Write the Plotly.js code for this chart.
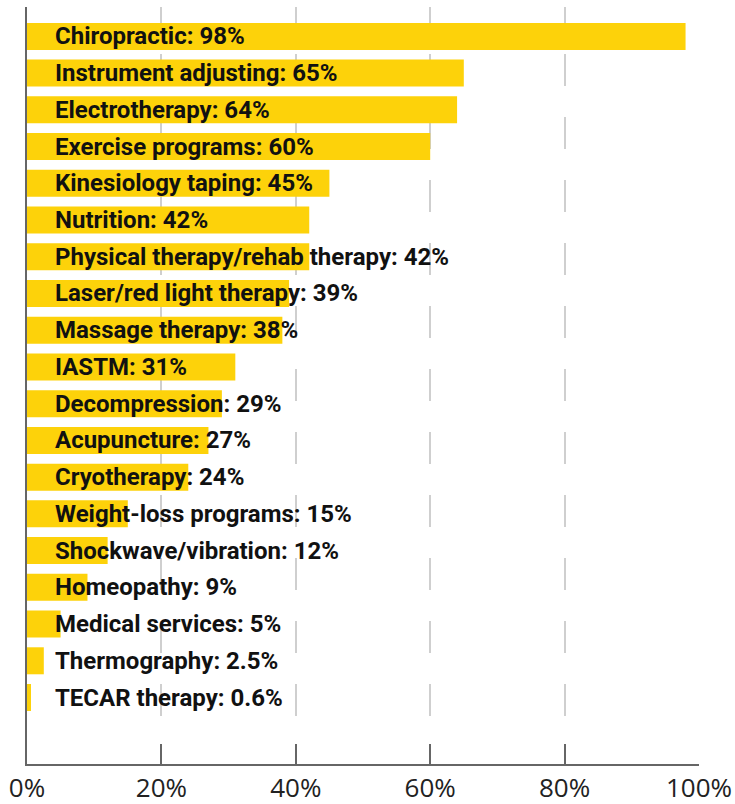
<!DOCTYPE html>
<html>
<head>
<meta charset="utf-8">
<script src="https://cdn.plot.ly/plotly-3.0.1.min.js"></script>
<style>
html,body{margin:0;padding:0;background:#fff;}
#chart{width:735px;height:804px;}
</style>
</head>
<body>
<div id="chart"></div>
<script>
const categories = [
  "Chiropractic", "Instrument adjusting", "Electrotherapy", "Exercise programs",
  "Kinesiology taping", "Nutrition", "Physical therapy/rehab therapy",
  "Laser/red light therapy", "Massage therapy", "IASTM", "Decompression",
  "Acupuncture", "Cryotherapy", "Weight-loss programs", "Shockwave/vibration",
  "Homeopathy", "Medical services", "Thermography", "TECAR therapy"
];
const values = [98, 65, 64, 60, 45, 42, 42, 39, 38, 31, 29, 27, 24, 15, 12, 9, 5, 2.5, 0.6];
const tickValues = [0, 20, 40, 60, 80, 100];
const tickLabels = ["0%", "20%", "40%", "60%", "80%", "100%"];

const labelFont = {family: "Roboto, 'Noto Sans', sans-serif", size: 24, color: "#111111", weight: 700};

const trace = {
  type: "bar",
  orientation: "h",
  x: values,
  y: categories,
  marker: {color: "#FDD20A", line: {width: 0}},
  width: 0.735,
  hoverinfo: "none"
};

const annotations = categories.map((c, i) => ({
  x: 0, y: c, xref: "x", yref: "y",
  text: c + ": " + values[i] + "%",
  showarrow: false, xanchor: "left", yanchor: "middle",
  xshift: 26,
  font: labelFont
}));

const layout = {
  width: 735, height: 804,
  margin: {l: 27, r: 36, t: 7, b: 40},
  paper_bgcolor: "#ffffff", plot_bgcolor: "#ffffff",
  showlegend: false,
  xaxis: {
    range: [0, 100],
    tickvals: tickValues, ticktext: tickLabels,
    showgrid: true, gridcolor: "#cfcfcf", gridwidth: 2,
    griddash: "16px,31px,16px,0px",
    ticks: "inside", ticklen: 20, tickwidth: 2, tickcolor: "#666666",
    showline: true, linecolor: "#666666", linewidth: 2,
    zeroline: false,
    tickfont: {family: "'Open Sans', 'Noto Sans', sans-serif", size: 26, color: "#222222"},
    fixedrange: true
  },
  yaxis: {
    type: "category",
    range: [19.81, -0.80],
    showticklabels: false, ticks: "",
    showgrid: false, zeroline: false,
    showline: true, linecolor: "#666666", linewidth: 2,
    fixedrange: true
  },
  annotations: annotations
};

Plotly.newPlot("chart", [trace], layout, {displayModeBar: false, staticPlot: true});
</script>
</body>
</html>
